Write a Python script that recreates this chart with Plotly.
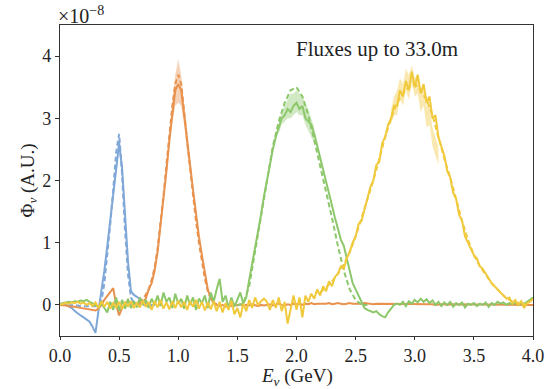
import numpy as np
import plotly.graph_objects as go

STEP = 0.025

# ---- measured series (units of 1e-8), sampled every 0.025 GeV from the start value ----
blue_start = 0.0
blue_solid = [
    0.00, 0.01, 0.00, -0.02, -0.05, -0.10, -0.14, -0.17, -0.20, -0.23,
    -0.27, -0.35, -0.45, -0.10, 0.20, 0.55, 0.95, 1.35, 1.75, 2.15,
    2.60, 2.20, 1.40, 0.70, 0.22, 0.16, 0.13, 0.09, 0.05, 0.02,
    0.00, -0.02, 0.00,
]
blue_dash = [
    0.00, 0.00, 0.00, 0.00, 0.00, -0.01, -0.01, -0.02, -0.02, -0.02,
    -0.02, -0.02, -0.02, 0.00, 0.05, 0.35, 0.80, 1.30, 1.85, 2.45,
    2.75, 2.10, 1.20, 0.50, 0.12, 0.03, 0.00, 0.00, 0.00, 0.00,
    0.00, 0.00, 0.00,
]

orange_start = 0.0
orange_solid = [
    0.00, 0.00, -0.01, -0.02, -0.02, -0.03, -0.04, -0.05, -0.05, -0.06,
    -0.07, -0.08, -0.09, -0.06, 0.00, 0.08, 0.15, 0.22, 0.27, 0.00,
    -0.17, -0.05, 0.03, 0.05, 0.02, 0.04, 0.00, 0.03, 0.05, 0.10,
    0.25, 0.35, 0.55, 0.85, 1.25, 1.70, 2.15, 2.65, 3.10, 3.45,
    3.55, 3.45, 3.05, 2.60, 2.25, 1.85, 1.45, 1.10, 0.80, 0.50,
    0.25, 0.10, 0.03, 0.00, -0.02, 0.00, -0.03, 0.00, -0.02, 0.01,
    -0.01, 0.01, -0.02, 0.00, -0.01, 0.01, 0.00, -0.02, 0.00, -0.01,
    0.00, 0.01, -0.01, 0.00, 0.02, 0.00, -0.01, 0.01, 0.00, 0.02,
    0.01, 0.02, 0.00, 0.02, 0.01, 0.03, 0.01, 0.02, 0.02, 0.01,
    0.02, 0.03, 0.01, 0.02, 0.03, 0.02, 0.01, 0.02, 0.03, 0.02,
    0.02, 0.01, 0.02, 0.03, 0.02, 0.02, 0.01, 0.02, 0.02, 0.01,
    0.02, 0.02, 0.01, 0.02, 0.01, 0.02, 0.01, 0.01, 0.02, 0.01,
    0.01, 0.02, 0.01, 0.01, 0.02, 0.01, 0.01, 0.00, 0.01, 0.01,
    0.01, 0.00, 0.01, 0.01, 0.00, 0.01, 0.00, 0.01, 0.00, 0.01,
    0.00, 0.01, 0.00, 0.00, 0.01, 0.00, 0.00, 0.01, 0.00, 0.00,
    0.00, 0.01, 0.00, 0.00, 0.00, 0.01, 0.00, 0.00, 0.00, 0.00,
    0.00,
]
orange_dash_start = 0.6
orange_dash = [
    0.00, 0.01, 0.03, 0.06, 0.10, 0.16, 0.25, 0.40, 0.60, 0.90,
    1.30, 1.75, 2.25, 2.75, 3.20, 3.55, 3.70, 3.55, 3.15, 2.65,
    2.20, 1.75, 1.35, 1.00, 0.70, 0.42, 0.22, 0.10, 0.04, 0.01,
    0.00,
]
orange_band_start = 0.9
orange_band_hi = [2.25, 2.80, 3.30, 3.70, 3.95, 3.70, 3.25, 2.75, 2.30]
orange_band_lo = [2.05, 2.50, 2.95, 3.20, 3.25, 3.20, 2.90, 2.45, 2.15]

green_start = 0.0
green_solid = [
    0.02, 0.03, 0.04, 0.05, 0.04, 0.06, 0.05, 0.07, 0.06, 0.08,
    0.05, 0.03, 0.00, -0.04, 0.02, -0.05, -0.12, 0.05, -0.08, 0.12,
    -0.10, 0.08, -0.06, 0.10, -0.05, 0.06, -0.04, 0.12, 0.02, 0.08,
    -0.05, 0.10, 0.00, 0.15, -0.02, 0.20, 0.05, 0.12, -0.05, 0.18,
    0.02, 0.10, -0.06, 0.15, 0.00, 0.12, -0.08, 0.10, 0.03, 0.15,
    -0.05, 0.20, 0.05, 0.25, 0.42, 0.05, 0.15, -0.05, 0.12, -0.03,
    0.10, 0.20, 0.02, 0.12, 0.40, 0.65, 0.90, 1.15, 1.45, 1.75,
    2.00, 2.30, 2.50, 2.70, 2.85, 3.00, 3.05, 3.15, 3.10, 3.20,
    3.25, 3.15, 3.20, 3.00, 2.95, 2.90, 2.75, 2.55, 2.35, 2.15,
    2.00, 1.80, 1.60, 1.40, 1.20, 1.05, 0.95, 0.75, 0.50, 0.35,
    0.25, 0.15, 0.05, -0.05, -0.08, -0.10, -0.12, -0.10, -0.15, -0.18,
    -0.20, -0.12, -0.05, 0.00, 0.02, 0.00, 0.05, -0.02, 0.06, 0.02,
    0.08, 0.04, 0.10, 0.05, 0.09, 0.03, 0.07, 0.00, 0.05, -0.02,
    0.04, 0.00, 0.05, -0.03, 0.03, 0.00, 0.04, -0.04, 0.02, 0.00,
    0.03, -0.02, 0.02, 0.00, 0.04, -0.03, 0.03, 0.00, 0.05, 0.02,
    0.04, 0.00, 0.03, 0.01, 0.04, 0.00, 0.03, 0.02, 0.05, 0.08,
    0.12,
]
green_dash_start = 1.5
green_dash_step = 0.05
green_dash = [
    0.00, 0.02, 0.30, 0.85, 1.45, 2.00, 2.55, 2.95, 3.25, 3.45,
    3.50, 3.35, 3.05, 2.65, 2.25, 1.85, 1.40, 0.95, 0.55, 0.25,
    0.08, 0.00, 0.00,
]
green_band_start = 1.85
green_band_hi = [2.95, 3.10, 3.20, 3.30, 3.40, 3.40, 3.45, 3.40, 3.35, 3.25, 3.15, 3.00, 2.85]
green_band_lo = [2.75, 2.90, 2.95, 3.00, 3.00, 3.05, 3.10, 3.05, 3.05, 2.90, 2.80, 2.70, 2.60]

yellow_start = 0.0
yellow_solid = [
    0.00, 0.02, 0.03, 0.02, 0.04, 0.03, 0.05, 0.02, 0.04, 0.00,
    0.03, -0.02, 0.04, -0.05, 0.06, -0.03, 0.05, -0.06, 0.03, -0.04,
    0.05, -0.06, 0.04, -0.02, 0.06, -0.05, 0.03, -0.04, 0.07, -0.03,
    0.05, -0.08, 0.06, -0.04, 0.08, -0.06, 0.04, -0.07, 0.06, -0.05,
    0.07, -0.04, 0.05, -0.08, 0.06, -0.03, 0.08, -0.06, 0.05, -0.09,
    0.04, -0.07, 0.06, -0.10, 0.05, -0.12, 0.03, -0.08, 0.07, -0.15,
    -0.05, -0.20, 0.02, -0.10, 0.08, -0.05, 0.12, 0.00, 0.06, 0.10,
    0.05, -0.08, 0.08, -0.05, 0.12, -0.10, 0.05, -0.30, -0.05, 0.15,
    -0.08, 0.12, -0.20, 0.15, 0.05, 0.18, 0.10, 0.25, 0.15, 0.30,
    0.22, 0.38, 0.30, 0.45, 0.50, 0.62, 0.58, 0.75, 0.85, 1.00,
    1.10, 1.30, 1.35, 1.55, 1.70, 1.90, 2.00, 2.25, 2.30, 2.60,
    2.70, 2.90, 3.00, 3.20, 3.20, 3.45, 3.35, 3.60, 3.45, 3.75,
    3.50, 3.70, 3.40, 3.55, 3.25, 3.35, 3.00, 3.05, 2.70, 2.55,
    2.40, 2.15, 2.05, 1.80, 1.70, 1.45, 1.35, 1.10, 1.00, 0.90,
    0.80, 0.75, 0.62, 0.58, 0.50, 0.42, 0.35, 0.30, 0.25, 0.20,
    0.15, 0.10, 0.12, 0.02, 0.08, 0.00, 0.06, -0.05, 0.03, 0.05,
    0.10,
]
yellow_dash_start = 2.2
yellow_dash_step = 0.05
yellow_dash = [
    0.20, 0.28, 0.38, 0.50, 0.65, 0.85, 1.10, 1.40, 1.70, 2.00,
    2.35, 2.70, 3.00, 3.25, 3.40, 3.50, 3.55, 3.45, 3.30, 3.05,
    2.70, 2.35, 2.05, 1.70, 1.35, 1.05, 0.80, 0.62, 0.48, 0.35,
    0.25, 0.15, 0.08, 0.04, 0.02, 0.00,
]
yellow_band_start = 2.8
yellow_band_hi = [3.15, 3.35, 3.45, 3.65, 3.55, 3.80, 3.70, 3.85, 3.65, 3.70, 3.45, 3.50, 3.20, 3.20, 2.85, 2.70, 2.55]
yellow_band_lo = [2.90, 3.05, 3.05, 3.30, 3.20, 3.45, 3.30, 3.55, 3.35, 3.40, 3.10, 3.20, 2.85, 2.90, 2.55, 2.40, 2.25]

blue_band_start = 0.45
blue_band_hi = [1.85, 2.30, 2.70, 2.30, 1.50]
blue_band_lo = [1.65, 2.05, 2.50, 2.10, 1.30]

x_ticks = [0.0, 0.5, 1.0, 1.5, 2.0, 2.5, 3.0, 3.5, 4.0]
x_ticklabels = ["0.0", "0.5", "1.0", "1.5", "2.0", "2.5", "3.0", "3.5", "4.0"]
y_ticks = [0, 1, 2, 3, 4]

BLUE = "#7fa7d8"
ORANGE = "#e8924e"
GREEN = "#8cc76a"
YELLOW = "#f0c93c"


def grid(start, n, step=STEP):
    return np.round(start + step * np.arange(n), 4)


def rgba(hexc, a):
    h = hexc.lstrip("#")
    r, g, b = int(h[0:2], 16), int(h[2:4], 16), int(h[4:6], 16)
    return f"rgba({r},{g},{b},{a})"


fig = go.Figure()


def add_band(color, start, hi, lo):
    xs = grid(start, len(hi))
    fig.add_trace(go.Scatter(x=xs, y=hi, mode="lines", line=dict(width=0),
                             showlegend=False, hoverinfo="skip"))
    fig.add_trace(go.Scatter(x=xs, y=lo, mode="lines", line=dict(width=0),
                             fill="tonexty", fillcolor=rgba(color, 0.4),
                             showlegend=False, hoverinfo="skip"))


def add_series(color, s_start, solid, d_start, dash, d_step, band):
    if band is not None:
        add_band(color, *band)
    fig.add_trace(go.Scatter(x=grid(d_start, len(dash), d_step), y=dash, mode="lines",
                             line=dict(color=color, width=2, dash="5px,3px"),
                             showlegend=False))
    fig.add_trace(go.Scatter(x=grid(s_start, len(solid)), y=solid, mode="lines",
                             line=dict(color=color, width=2),
                             showlegend=False))


add_series(BLUE, blue_start, blue_solid, blue_start, blue_dash, STEP,
           (blue_band_start, blue_band_hi, blue_band_lo))
add_series(ORANGE, orange_start, orange_solid, orange_dash_start, orange_dash, STEP,
           (orange_band_start, orange_band_hi, orange_band_lo))
add_series(GREEN, green_start, green_solid, green_dash_start, green_dash, green_dash_step,
           (green_band_start, green_band_hi, green_band_lo))
add_series(YELLOW, yellow_start, yellow_solid, yellow_dash_start, yellow_dash, yellow_dash_step,
           (yellow_band_start, yellow_band_hi, yellow_band_lo))

FONT = "Liberation Serif"
AX = "#333333"
TXT = "#222222"

# plot area: x 60..533 px, y 25..336 px  (figure 550x389)
fig.update_layout(
    width=550, height=389,
    margin=dict(l=60, r=17, t=25, b=53, autoexpand=False),
    paper_bgcolor="white", plot_bgcolor="white",
    font=dict(family=FONT, size=18, color=TXT),
    showlegend=False,
    xaxis=dict(range=[0, 4], tickvals=x_ticks, ticktext=x_ticklabels, automargin=False,
               showline=True, mirror=True, linecolor=AX, linewidth=1.2,
               ticks="outside", ticklen=3, tickcolor=AX, showgrid=False, zeroline=False,
               tickfont=dict(family=FONT, size=18, color=TXT)),
    yaxis=dict(range=[-0.5, 4.5], tickvals=y_ticks, automargin=False,
               showline=True, mirror=True, linecolor=AX, linewidth=1.2,
               ticks="outside", ticklen=4, tickcolor=AX, showgrid=False, zeroline=False,
               tickfont=dict(family=FONT, size=18, color=TXT)),
    annotations=[
        dict(text="Fluxes up to 33.0m", xref="paper", yref="paper",
             x=0.671, y=0.923, xanchor="center", yanchor="middle", showarrow=False,
             font=dict(family=FONT, size=21, color=TXT)),
        dict(text="×10<sup>−8</sup>", xref="paper", yref="paper",
             x=0, y=1, xanchor="left", yanchor="bottom", xshift=-4, yshift=-4,
             showarrow=False, font=dict(family=FONT, size=20, color=TXT)),
        dict(text="<i>E<sub>ν</sub></i> (GeV)", xref="paper", yref="paper",
             x=0.5, y=0, xanchor="center", yanchor="middle", yshift=-41,
             showarrow=False, font=dict(family=FONT, size=19, color=TXT)),
        dict(text="Φ<i><sub>ν</sub></i> (A.U.)", xref="paper", yref="paper",
             x=0, y=0.5, xanchor="center", yanchor="middle", xshift=-32, textangle=-90,
             showarrow=False, font=dict(family=FONT, size=19, color=TXT)),
    ],
)

fig.write_html("out.html", config={"displayModeBar": False},
               post_script="document.body.style.margin='0px';")
